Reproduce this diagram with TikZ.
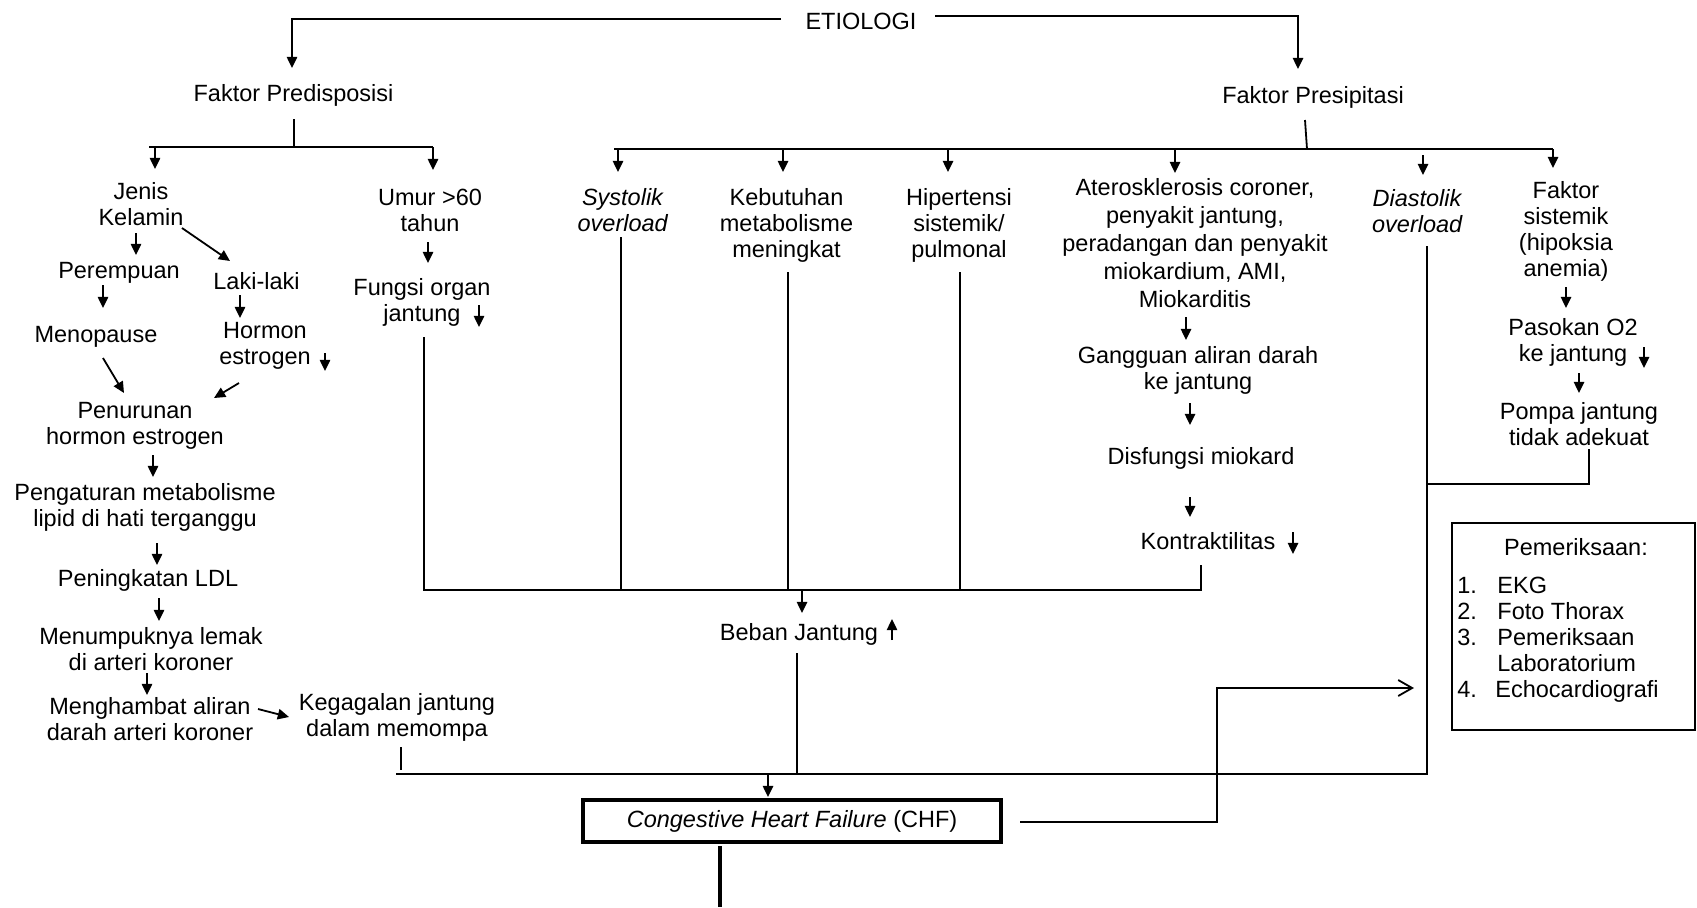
\documentclass[tikz,border=0pt]{standalone}
\usepackage{fontspec}
\setmainfont{Liberation Sans}
\usetikzlibrary{arrows.meta}
\newcommand\fsz{\fontsize{11.75}{13}\selectfont}
\newcommand\fszb{\fontsize{11.75}{14}\selectfont}
\begin{document}
\begin{tikzpicture}[x=0.5pt,y=-0.5pt,
  txt/.style={font=\fsz, align=center, inner sep=0pt},
  ln/.style={line width=0.9pt},
  arr/.style={ln, -{Triangle[length=5.6pt,width=5.2pt]}},
  barb/.style={ln, -{Straight Barb[length=7pt,width=8pt]}}]
\fill[white] (0,0) rectangle (1697,907);
\useasboundingbox (0,0) rectangle (1697,907);

% ---------------- text nodes ----------------
\node[txt] (etio)   at (861,21)   {ETIOLOGI};
\node[txt] (fpred)  at (293.5,95) {Faktor Predisposisi};
\node[txt] (fpres)  at (1313,97)  {Faktor Presipitasi};
\node[txt] (jenis)  at (141,204.5){Jenis\\Kelamin};
\node[txt] (perem)  at (119,273)  {Perempuan};
\node[txt] (laki)   at (256.5,281){Laki-laki};
\node[txt] (meno)   at (96,337)   {Menopause};
\node[txt] (hormon) at (265,346)  {Hormon\\estrogen};
\node[txt] (penur)  at (135,425.5){Penurunan\\hormon estrogen};
\node[txt] (peng)   at (145,507.5){Pengaturan metabolisme\\lipid di hati terganggu};
\node[txt] (ldl)    at (148,580)  {Peningkatan LDL};
\node[txt] (menum)  at (151,649)  {Menumpuknya lemak\\di arteri koroner};
\node[txt] (mengh)  at (150,719)  {Menghambat aliran\\darah arteri koroner};
\node[txt] (kegag)  at (397,717.5){Kegagalan jantung\\dalam memompa};
\node[txt] (umur)   at (430,210)  {Umur >60\\tahun};
\node[txt] (fungsi) at (422,302)  {Fungsi organ\\jantung};
\node[txt] (sys)    at (623,210)  {\textit{Systolik}\\\textit{overload}};
\node[txt] (kebu)   at (786.5,225){Kebutuhan\\metabolisme\\meningkat};
\node[txt] (hiper)  at (959,225)  {Hipertensi\\sistemik/\\pulmonal};
\node[txt,font=\fszb] (ater) at (1195,243) {Aterosklerosis coroner,\\penyakit jantung,\\peradangan dan penyakit\\miokardium, AMI,\\Miokarditis};
\node[txt] (gang)   at (1198,370) {Gangguan aliran darah\\ke jantung};
\node[txt] (disf)   at (1201,458) {Disfungsi miokard};
\node[txt] (kontr)  at (1208,541) {Kontraktilitas};
\node[txt] (dias)   at (1417.5,211.5){\textit{Diastolik}\\\textit{overload}};
\node[txt] (fsis)   at (1566,231){Faktor\\sistemik\\(hipoksia\\anemia)};
\node[txt] (pasok)  at (1573,342.5){Pasokan O2\\ke jantung};
\node[txt] (pompa)  at (1579,424.5){Pompa jantung\\tidak adekuat};
\node[txt] (beban)  at (799,634)  {Beban Jantung};
\node[txt, draw, line width=2pt, minimum width=209pt, minimum height=21pt]
      (chf) at (792,821) {\textit{Congestive Heart Failure} (CHF)};
\node[ln, draw, inner sep=0pt, minimum width=121.5pt, minimum height=103.5pt]
      (pembox) at (1573.5,626.5) {};
\node[txt] (pemtitle) at (1576,547) {Pemeriksaan:};
\node[txt, align=left, anchor=west] (pemlist) at (1457,640)
  {\makebox[20pt][l]{1.}EKG\\\makebox[20pt][l]{2.}Foto Thorax\\\makebox[20pt][l]{3.}Pemeriksaan\\\hspace*{20pt}Laboratorium\\\makebox[19pt][l]{4.}Echocardiografi};

% ---------------- coordinates ----------------
\coordinate (eL) at (781,19);   \coordinate (eLc) at (292,19);  \coordinate (eLa) at (292,68);
\coordinate (eR) at (935,16);   \coordinate (eRc) at (1298,16); \coordinate (eRa) at (1298,69);
% predisposisi branch
\coordinate (p0) at (294,119);  \coordinate (p1) at (294,147);
\coordinate (pL) at (149,147);  \coordinate (pR) at (433,147);
\coordinate (pLt) at (155,147); \coordinate (pLa) at (155,169); \coordinate (pRa) at (433,170);
% presipitasi branch
\coordinate (q0) at (1305,120); \coordinate (q1) at (1307,149);
\coordinate (qL) at (614,149);  \coordinate (qR) at (1553,149);
\coordinate (qs) at (618,149);  \coordinate (qsa) at (618,172);
\coordinate (qk) at (783,149);  \coordinate (qka) at (783,172);
\coordinate (qh) at (948,149);  \coordinate (qha) at (948,172);
\coordinate (qa) at (1175,149); \coordinate (qaa) at (1175,173);
\coordinate (qd) at (1423,155); \coordinate (qda) at (1423,175);
\coordinate (qfa) at (1553,168);
% left column
\coordinate (j1) at (136,233);  \coordinate (j2) at (136,255);
\coordinate (j3) at (182,228);  \coordinate (j4) at (230,261);
\coordinate (pe1) at (103,285); \coordinate (pe2) at (103,308);
\coordinate (la1) at (240,295); \coordinate (la2) at (240,318);
\coordinate (me1) at (103,358); \coordinate (me2) at (124,393);
\coordinate (ho1) at (239,383); \coordinate (ho2) at (214,398);
\coordinate (hd1) at (325,353); \coordinate (hd2) at (325,371);
\coordinate (pn1) at (153,455); \coordinate (pn2) at (153,477);
\coordinate (pg1) at (157,543); \coordinate (pg2) at (157,565);
\coordinate (ld1) at (159,598); \coordinate (ld2) at (159,621);
\coordinate (mn1) at (147,673); \coordinate (mn2) at (147,695);
\coordinate (mh1) at (258,709); \coordinate (mh2) at (289,717);
% umur column
\coordinate (u1) at (428,242);  \coordinate (u2) at (428,263);
\coordinate (fd1) at (479,305); \coordinate (fd2) at (479,327);
\coordinate (f1) at (424,337);  \coordinate (f2) at (424,590);
% middle collectors
\coordinate (s1) at (621,237);  \coordinate (s2) at (621,590);
\coordinate (k1) at (788,272);  \coordinate (k2) at (788,590);
\coordinate (h1) at (960,272);  \coordinate (h2) at (960,590);
\coordinate (c1) at (1201,565); \coordinate (c2) at (1201,590);
\coordinate (b1) at (802,590);  \coordinate (b2) at (802,613);
\coordinate (bu1) at (892,640); \coordinate (bu2) at (892,619);
\coordinate (bl1) at (797,653); \coordinate (bl2) at (797,774);
% right column
\coordinate (a1) at (1186,317); \coordinate (a2) at (1186,340);
\coordinate (g1) at (1190,403); \coordinate (g2) at (1190,425);
\coordinate (d1) at (1190,497); \coordinate (d2) at (1190,517);
\coordinate (kd1) at (1293,532);\coordinate (kd2) at (1293,554);
\coordinate (fs1) at (1566,287);\coordinate (fs2) at (1566,308);
\coordinate (pd1) at (1644,347);\coordinate (pd2) at (1644,368);
\coordinate (ps1) at (1579,373);\coordinate (ps2) at (1579,393);
\coordinate (po1) at (1589,449);\coordinate (po2) at (1589,484); \coordinate (po3) at (1427,484);
\coordinate (di1) at (1427,246);\coordinate (di2) at (1427,774);
% bottom
\coordinate (kg1) at (401,747); \coordinate (kg2) at (401,770);
\coordinate (bt1) at (396,774);
\coordinate (ch1) at (768,774); \coordinate (ch2) at (768,797);
\coordinate (r1) at (1020,822); \coordinate (r2) at (1217,822);
\coordinate (r3) at (1217,688); \coordinate (r4) at (1414,688);
\coordinate (dn1) at (720,846); \coordinate (dn2) at (720,907);

% ---------------- connectors ----------------
\draw[arr] (eL) -- (eLc) -- (eLa);
\draw[arr] (eR) -- (eRc) -- (eRa);
\draw[ln] (p0) -- (p1);
\draw[ln] (pL) -- (pR);
\draw[arr] (pLt) -- (pLa);
\draw[arr] (pR) -- (pRa);
\draw[ln] (q0) -- (q1);
\draw[ln] (qL) -- (qR);
\draw[arr] (qs) -- (qsa);
\draw[arr] (qk) -- (qka);
\draw[arr] (qh) -- (qha);
\draw[arr] (qa) -- (qaa);
\draw[arr] (qd) -- (qda);
\draw[arr] (qR) -- (qfa);

\draw[arr] (j1) -- (j2);
\draw[arr] (j3) -- (j4);
\draw[arr] (pe1) -- (pe2);
\draw[arr] (la1) -- (la2);
\draw[arr] (me1) -- (me2);
\draw[arr] (ho1) -- (ho2);
\draw[arr] (hd1) -- (hd2);
\draw[arr] (pn1) -- (pn2);
\draw[arr] (pg1) -- (pg2);
\draw[arr] (ld1) -- (ld2);
\draw[arr] (mn1) -- (mn2);
\draw[arr] (mh1) -- (mh2);

\draw[arr] (u1) -- (u2);
\draw[arr] (fd1) -- (fd2);
\draw[ln] (f1) -- (f2) -- (c2) -- (c1);
\draw[ln] (s1) -- (s2);
\draw[ln] (k1) -- (k2);
\draw[ln] (h1) -- (h2);
\draw[arr] (b1) -- (b2);
\draw[arr] (bu1) -- (bu2);
\draw[ln] (bl1) -- (bl2);

\draw[arr] (a1) -- (a2);
\draw[arr] (g1) -- (g2);
\draw[arr] (d1) -- (d2);
\draw[arr] (kd1) -- (kd2);
\draw[arr] (fs1) -- (fs2);
\draw[arr] (pd1) -- (pd2);
\draw[arr] (ps1) -- (ps2);
\draw[ln] (po1) -- (po2) -- (po3);
\draw[ln] (di1) -- (di2) -- (bt1);
\draw[ln] (kg1) -- (kg2);
\draw[arr] (ch1) -- (ch2);
\draw[barb] (r1) -- (r2) -- (r3) -- (r4);
\draw[line width=2pt] (dn1) -- (dn2);
\end{tikzpicture}
\end{document}
